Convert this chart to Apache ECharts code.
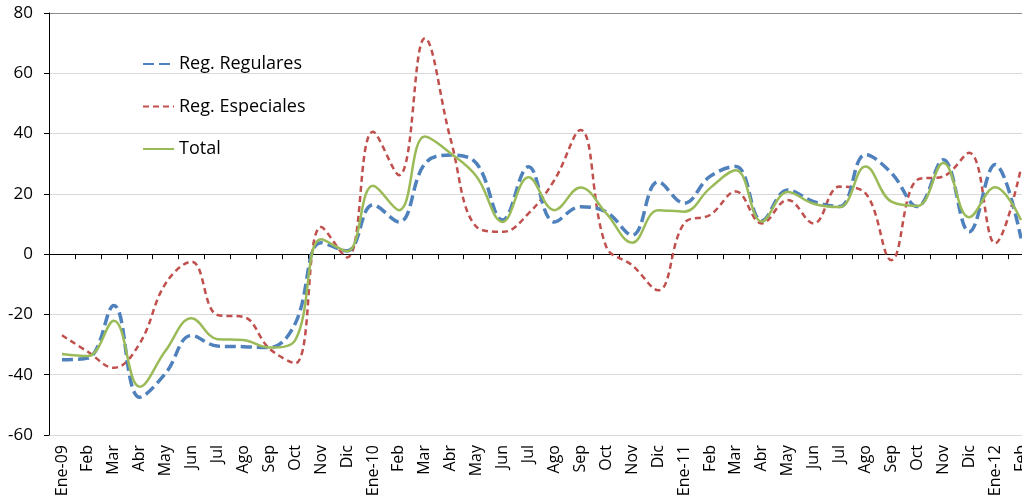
<!DOCTYPE html>
<html>
<head>
<meta charset="utf-8">
<script src="https://cdn.jsdelivr.net/npm/echarts@6/dist/echarts.min.js"></script>
<style>
  html, body { margin: 0; padding: 0; background: #fff; }
  #chart { width: 1022px; height: 503px; }
</style>
</head>
<body>
<div id="chart"></div>
<script>
// meses, ene-09 a feb-12
const months = ['Ene-09','Feb','Mar','Abr','May','Jun','Jul','Ago','Sep','Oct','Nov','Dic',
  'Ene-10','Feb','Mar','Abr','May','Jun','Jul','Ago','Sep','Oct','Nov','Dic',
  'Ene-11','Feb','Mar','Abr','May','Jun','Jul','Ago','Sep','Oct','Nov','Dic',
  'Ene-12','Feb'];

const regulares = [-35, -34.5, -17, -47.5, -39.5, -27, -30.5, -30.7, -31, -23, 3.8, 1.1,
  16.3, 10.7, 30, 32.9, 30, 11.3, 29, 10.7, 15.7, 14, 6.3, 24,
  16.9, 25.8, 29.1, 11.1, 21.3, 17.4, 15.8, 33, 26.9, 15.8, 31.3, 7.4,
  29.7, 5.2];

const especiales = [-26.9, -32.4, -37.7, -29.6, -9.7, -2.5, -20.2, -20.8, -31.3, -36.2, 9, -1.1,
  40.6, 26.2, 71.6, 37.9, 9, 7.4, 13.5, 24.6, 41.2, 2.4, -3.7, -12,
  10.2, 13, 20.8, 10.2, 18, 10.2, 22.4, 20.2, -2, 24.7, 25.8, 33.6,
  3.6, 28.6];

const total = [-33.1, -33.8, -22.1, -44, -32, -21.3, -28.2, -28.5, -31, -28.5, 4.9, 1,
  22.7, 14.6, 39, 33.4, 25.7, 10.7, 25.5, 14.6, 22.1, 13.5, 3.8, 14.6,
  14.1, 21.9, 27.8, 10.8, 20.6, 16.7, 15.6, 29.1, 17.4, 16, 30.2, 12.2,
  22.2, 11.3];

const fontName = 'Open Sans';

let myChart = echarts.init(document.getElementById('chart'));
let option = {
    animation: false,
    textStyle: { fontFamily: fontName },
    // plot runs past the right edge, last month is cut off like in the original
    grid: { left: 49, top: 13, width: 985, height: 422, containLabel: false, outerBoundsMode: 'none' },
    legend: {
        orient: 'vertical',
        left: 142,
        top: 55,
        padding: 0,
        itemWidth: 31,
        itemHeight: 18,
        itemGap: 24.5,
        itemStyle: { opacity: 0 },
        textStyle: { fontSize: 18, color: '#000', fontFamily: fontName },
        data: ['Reg. Regulares', 'Reg. Especiales', 'Total']
    },
    xAxis: [{
        type: 'category',
        data: months,
        position: 'bottom',
        boundaryGap: true,
        axisLine: { show: false, onZero: false },
        axisTick: { show: false },
        axisLabel: { rotate: 90, interval: 0, fontSize: 16, color: '#000', margin: 10, fontFamily: fontName }
    }, {
        type: 'category',
        data: months,
        position: 'bottom',
        boundaryGap: true,
        axisLine: { show: true, onZero: true, lineStyle: { color: '#000', width: 1 } },
        axisTick: { show: true, length: 5, interval: 0, lineStyle: { color: '#000' } },
        axisLabel: { show: false }
    }],
    yAxis: {
        type: 'value',
        min: -60,
        max: 80,
        interval: 20,
        axisLine: { show: true, lineStyle: { color: '#000', width: 1 } },
        axisTick: { show: true, length: 5, lineStyle: { color: '#000' } },
        axisLabel: { fontSize: 17, color: '#000', margin: 16, fontFamily: fontName },
        splitLine: {
            show: true,
            lineStyle: {
                color: ['#d9d9d9', '#d9d9d9', '#d9d9d9', '#d9d9d9', '#d9d9d9', '#d9d9d9', '#d9d9d9', '#8c8c8c'],
                width: 1
            }
        }
    },
    series: [{
        name: 'Reg. Regulares',
        type: 'line',
        data: regulares,
        smooth: 0.4,
        symbol: 'none',
        lineStyle: { color: '#4F81BD', width: 3.5, type: [11, 5] },
        itemStyle: { color: '#4F81BD' },
        z: 3
    }, {
        name: 'Reg. Especiales',
        type: 'line',
        data: especiales,
        smooth: 0.4,
        symbol: 'none',
        lineStyle: { color: '#C0504D', width: 2.5, type: [6, 4] },
        itemStyle: { color: '#C0504D' },
        z: 2
    }, {
        name: 'Total',
        type: 'line',
        data: total,
        smooth: 0.4,
        symbol: 'none',
        lineStyle: { color: '#9BBB59', width: 2.5 },
        itemStyle: { color: '#9BBB59' },
        z: 4
    }]
};
myChart.setOption(option);
</script>
</body>
</html>
